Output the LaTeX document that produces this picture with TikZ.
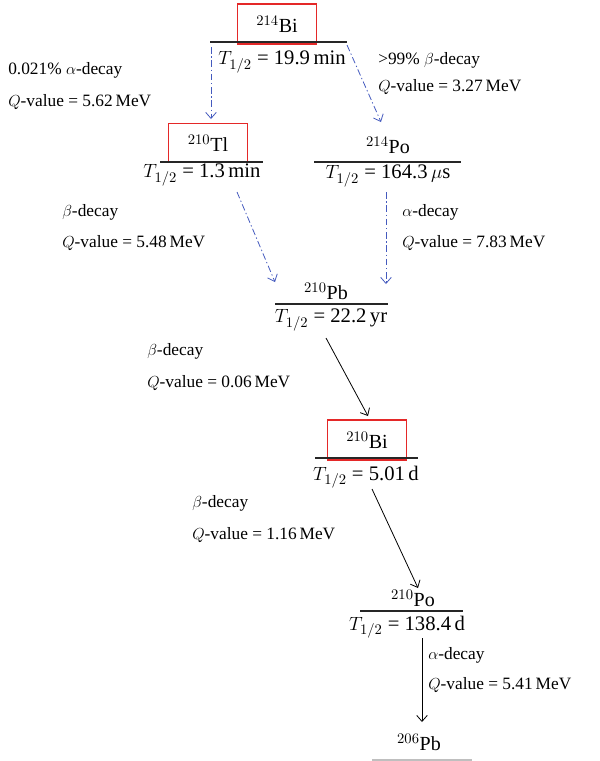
\documentclass[tikz,border=0pt]{standalone}
\usepackage{fontspec}
\setmainfont{Liberation Serif}
\usepackage{tikz}
\usetikzlibrary{arrows.meta, positioning}
\definecolor{decayblue}{RGB}{68,90,190}
\definecolor{boxred}{RGB}{228,40,40}
\tikzset{
  nucbox/.style={
    draw=boxred, line width=0.8pt, minimum width=59pt, minimum height=30pt,
    font=\fontsize{15}{17}\selectfont
  },
  nuclabel/.style={font=\fontsize{15}{17}\selectfont, inner sep=1pt},
  halflabel/.style={font=\fontsize{15.5}{17}\selectfont, inner sep=1pt},
  decaylabel/.style={font=\fontsize{13}{15}\selectfont, anchor=west, inner sep=0pt},
  levelline/.style={line width=1pt, black!85},
  dasharrow/.style={
    -{Straight Barb[length=1.6mm, width=2.8mm]}, decayblue, line width=0.6pt,
    dash pattern=on 5pt off 2pt on 1pt off 2pt
  },
  solidarrow/.style={-{Straight Barb[length=1.6mm, width=2.8mm]}, black, line width=0.6pt},
}

\begin{document}
\begin{tikzpicture}[x=0.75pt, y=-0.75pt]
  \useasboundingbox (0,0) rectangle (600,761);

  % === Levels ===
  \node[nucbox] (bi214) at (277,24) {$^{214}$Bi};
  \draw[levelline] (210,42) -- (347,42);
  \node[halflabel] (bi214half) at (282,62) {$T_{1/2}$ = 19.9\,min};

  \node[nucbox, minimum height=29pt] (tl210) at (208,143) {$^{210}$Tl};
  \draw[levelline] (160,162) -- (263,162);
  \node[halflabel] (tl210half) at (202,175) {$T_{1/2}$ = 1.3\,min};

  \node[nuclabel] (po214) at (388,145) {$^{214}$Po};
  \draw[levelline] (314,162) -- (461,162);
  \node[halflabel] (po214half) at (388,176) {$T_{1/2}$ = 164.3\,$\mu$s};

  \node[nuclabel] (pb210) at (326,291) {$^{210}$Pb};
  \draw[levelline] (275,304) -- (388,304);
  \node[halflabel] (pb210half) at (331,320) {$T_{1/2}$ = 22.2\,yr};

  \node[nucbox] (bi210) at (367,440) {$^{210}$Bi};
  \draw[levelline] (315,458) -- (418,458);
  \node[halflabel] (bi210half) at (366,477) {$T_{1/2}$ = 5.01\,d};

  \node[nuclabel] (po210) at (413,598) {$^{210}$Po};
  \draw[levelline] (360,611) -- (463,611);
  \node[halflabel] (po210half) at (407,627) {$T_{1/2}$ = 138.4\,d};

  \node[nuclabel] (pb206) at (419,742) {$^{206}$Pb};
  \draw[levelline, black!25] (372,760) -- (472,760);

  % === Arrow ends ===
  \coordinate (bileft)  at (211,47);
  \coordinate (biright) at (347,45);
  \coordinate (tltop)   at (211,119);
  \coordinate (potop)   at (381,122);
  \coordinate (tlout)   at (237,192);
  \coordinate (poout)   at (386,192);
  \coordinate (pbinl)   at (275,282);
  \coordinate (pbinr)   at (386,284);
  \coordinate (pbout)   at (326,338);
  \coordinate (biin)    at (368,416);
  \coordinate (biout)   at (372,489);
  \coordinate (poin)    at (418,588);
  \coordinate (poout2)  at (422,638);
  \coordinate (pbend)   at (422,722);

  % === Arrows ===
  \draw[dasharrow] (bileft) -- (tltop);
  \draw[dasharrow] (biright) -- (potop);
  \draw[dasharrow] (tlout) -- (pbinl);
  \draw[dasharrow] (poout) -- (pbinr);
  \draw[solidarrow] (pbout) -- (biin);
  \draw[solidarrow] (biout) -- (poin);
  \draw[solidarrow] (poout2) -- (pbend);

  % === Decay labels ===
  \node[decaylabel] (bialpha) at (8,70) {0.021\% $\alpha$-decay};
  \node[decaylabel] (bialphaq) at (8,102) {$Q$-value = 5.62\,MeV};
  \node[decaylabel] (bibeta) at (378,60) {\textgreater99\% $\beta$-decay};
  \node[decaylabel] (bibetaq) at (378,87) {$Q$-value = 3.27\,MeV};

  \node[decaylabel] (tlbeta) at (62,212) {$\beta$-decay};
  \node[decaylabel] (tlbetaq) at (62,243) {$Q$-value = 5.48\,MeV};
  \node[decaylabel] (poalpha) at (402,212) {$\alpha$-decay};
  \node[decaylabel] (poalphaq) at (402,243) {$Q$-value = 7.83\,MeV};

  \node[decaylabel] (pbbeta) at (147,351) {$\beta$-decay};
  \node[decaylabel] (pbbetaq) at (147,383) {$Q$-value = 0.06\,MeV};

  \node[decaylabel] (bibeta2) at (192,503) {$\beta$-decay};
  \node[decaylabel] (bibeta2q) at (192,535) {$Q$-value = 1.16\,MeV};

  \node[decaylabel] (poalpha2) at (428,655) {$\alpha$-decay};
  \node[decaylabel] (poalpha2q) at (428,685) {$Q$-value = 5.41\,MeV};

\end{tikzpicture}
\end{document}
